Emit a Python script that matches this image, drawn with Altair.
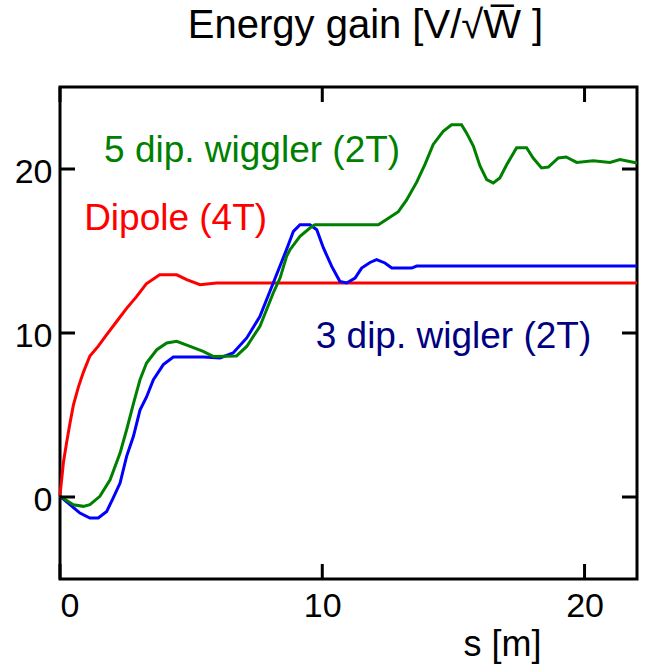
import altair as alt
import pandas as pd

# ---- data ----
dip_s = [0, 0.13, 0.25, 0.38, 0.51, 0.7, 0.89, 1.14, 1.46, 1.78, 2.16, 2.54, 2.91, 3.29, 3.8, 4.45, 4.83, 5.34, 5.97, 22]
dip_y = [0.1, 2.1, 3.3, 4.5, 5.6, 6.7, 7.6, 8.6, 9.2, 9.9, 10.7, 11.5, 12.2, 13.0, 13.55, 13.55, 13.25, 12.95, 13.05, 13.05]

w5_s = [0, 0.51, 0.89, 1.14, 1.52, 1.91, 2.29, 2.54, 2.8, 3.05, 3.3, 3.69, 4.07, 4.45, 4.96, 5.46, 5.84, 6.73, 7.12,
        7.62, 8.13, 8.39, 8.64, 8.77, 9.15, 9.53, 9.72, 12.14, 12.52, 12.9, 13.21, 13.6, 13.92, 14.23, 14.61, 14.93,
        15.31, 15.5, 15.76, 16.01, 16.27, 16.52, 16.77, 17.03, 17.41, 17.79, 18.04, 18.36, 18.62, 19.0, 19.3, 19.7,
        20.33, 20.97, 21.35, 22]
w5_y = [0.04, -0.47, -0.57, -0.47, 0.04, 1.05, 2.68, 4.1, 5.7, 7.15, 8.17, 8.98, 9.39, 9.49, 9.18, 8.88, 8.57, 8.6, 9.18,
        10.4, 12.44, 13.35, 14.67, 15.08, 15.9, 16.4, 16.6, 16.6, 17.0, 17.4, 18.1, 19.2, 20.3, 21.5, 22.3, 22.7,
        22.7, 22.2, 21.4, 20.2, 19.35, 19.15, 19.45, 20.26, 21.3, 21.3, 20.67, 20.06, 20.12, 20.67, 20.73, 20.4,
        20.5, 20.4, 20.57, 20.37]

w3_s = [0, 0.38, 0.76, 1.14, 1.46, 1.78, 2.03, 2.29, 2.54, 2.8, 3.05, 3.3, 3.56, 3.94, 4.32, 5.46, 6.1, 6.6, 7.12,
        7.62, 8.13, 8.64, 8.9, 9.15, 9.53, 9.79, 10.04, 10.36, 10.67, 10.93, 11.25, 11.5, 11.82, 12.07, 12.39, 12.65,
        13.41, 13.6, 22]
w3_y = [0.04, -0.47, -0.98, -1.28, -1.28, -0.88, -0.06, 0.85, 2.48, 3.7, 5.3, 6.1, 7.15, 8.07, 8.54, 8.54, 8.48, 8.78,
        9.7, 11.0, 13.05, 15.1, 16.2, 16.6, 16.6, 16.3, 15.2, 14.06, 13.15, 13.05, 13.35, 13.96, 14.3, 14.47, 14.27,
        13.96, 13.96, 14.08, 14.08]

x_ticks = [0, 10, 20]
y_ticks = [0, 10, 20]

labels_text = ["5 dip. wiggler (2T)", "Dipole (4T)", "3 dip. wigler (2T)"]
labels_x = [1.68, 0.92, 9.75]
labels_y = [20.45, 16.3, 9.08]
labels_color = ["#008000", "#FF0000", "#000080"]

# ---- layout ----
W, H = 577, 492
TICK = 15
FONT = "Liberation Sans"
XDOM = [0, 22]
YDOM = [-5, 25]

xs = alt.Scale(domain=XDOM, nice=False, zero=False)
ys = alt.Scale(domain=YDOM, nice=False, zero=False)

x_axis = alt.Axis(values=x_ticks, domain=False, ticks=False, grid=False, labelFont=FONT, labelFontSize=34,
                  labelColor="black", labelPadding=10, title="s [m]", titleFont=FONT, titleFontSize=36,
                  titleFontWeight="normal", titleColor="black", titleX=442, titleY=76, titleAlign="center",
                  titleBaseline="alphabetic", titleAnchor="start")
y_axis = alt.Axis(values=y_ticks, domain=False, ticks=False, grid=False, labelFont=FONT, labelFontSize=34,
                  labelColor="black", labelPadding=8, labelOffset=3)


def curve(s, y, color):
    df = pd.DataFrame({"s": s, "y": y})
    return alt.Chart(df).mark_line(color=color, strokeWidth=3).encode(
        x=alt.X("s:Q", scale=xs, axis=x_axis),
        y=alt.Y("y:Q", scale=ys, axis=y_axis, title=None),
    )


red = curve(dip_s, dip_y, "#FF0000")
blue = curve(w3_s, w3_y, "#0000FF")
green = curve(w5_s, w5_y, "#008000")

xt = pd.DataFrame({"v": x_ticks})
yt = pd.DataFrame({"v": y_ticks})
top_ticks = alt.Chart(xt).mark_rule(color="black", strokeWidth=3).encode(
    x=alt.X("v:Q", scale=xs), y=alt.value(0), y2=alt.value(TICK))
bot_ticks = alt.Chart(xt).mark_rule(color="black", strokeWidth=3).encode(
    x=alt.X("v:Q", scale=xs), y=alt.value(H), y2=alt.value(H - TICK))
left_ticks = alt.Chart(yt).mark_rule(color="black", strokeWidth=3).encode(
    y=alt.Y("v:Q", scale=ys), x=alt.value(0), x2=alt.value(TICK))
right_ticks = alt.Chart(yt).mark_rule(color="black", strokeWidth=3).encode(
    y=alt.Y("v:Q", scale=ys), x=alt.value(W), x2=alt.value(W - TICK))

texts = []
for t, lx, ly, c in zip(labels_text, labels_x, labels_y, labels_color):
    d = pd.DataFrame({"x": [lx], "y": [ly], "t": [t]})
    texts.append(alt.Chart(d).mark_text(align="left", baseline="alphabetic", font=FONT, fontSize=37,
                                        color=c).encode(
        x=alt.X("x:Q", scale=xs), y=alt.Y("y:Q", scale=ys), text="t:N"))

chart = alt.layer(red, blue, green, top_ticks, bot_ticks, left_ticks, right_ticks, *texts).properties(
    width=W, height=H,
    autosize=alt.AutoSizeParams(type="none"),
    padding={"left": 60, "top": 87, "right": 13, "bottom": 86},
    title=alt.TitleParams(text="Energy gain [V/\u221aW\u0305 ]", font=FONT, fontSize=40, fontWeight="normal",
                          color="black", anchor="middle", dx=17, offset=8, baseline="alphabetic"),
).configure(background="white", view=alt.ViewConfig(stroke="black", strokeWidth=3))

chart.save("out.html", embed_options={"renderer": "svg", "actions": False})
